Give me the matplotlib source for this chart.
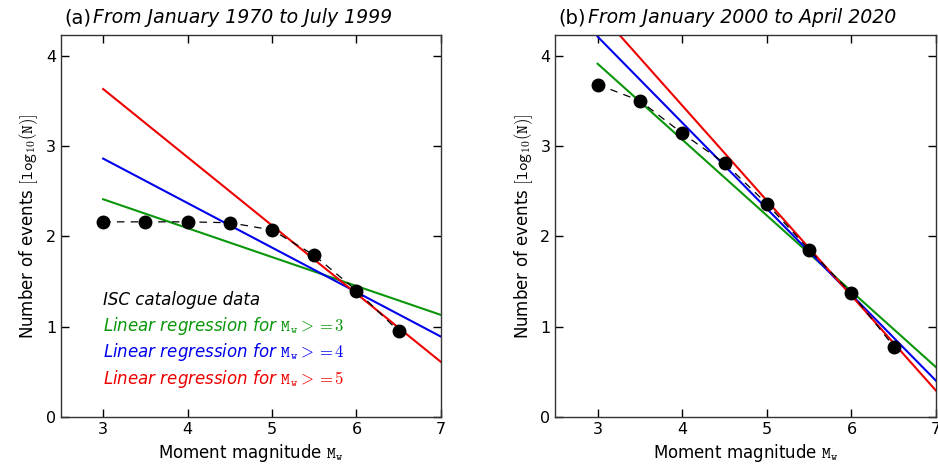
import matplotlib
matplotlib.use("Agg")
import matplotlib.pyplot as plt
import numpy as np

plt.rcParams['mathtext.fontset'] = 'cm'
plt.rcParams['font.family'] = 'DejaVu Sans'

mags = [3, 3.5, 4, 4.5, 5, 5.5, 6, 6.5]
logN_a = [2.16, 2.16, 2.16, 2.15, 2.07, 1.79, 1.40, 0.95]
logN_b = [3.68, 3.50, 3.14, 2.81, 2.36, 1.85, 1.37, 0.78]

fit_x = [3, 7]
# line endpoints (value at x=3, value at x=7)
fit_a = {'3': [2.41, 1.13], '4': [2.86, 0.89], '5': [3.63, 0.61]}
fit_b = {'3': [3.91, 0.55], '4': [4.21, 0.40], '5': [4.50, 0.29]}

colors = {'3': '#0a960a', '4': '#0000ee', '5': '#ee0000'}
titles = ['From January 1970 to July 1999', 'From January 2000 to April 2020']
labels = ['(a)', '(b)']

fig = plt.figure(figsize=(9.38, 4.73), dpi=100)
ax_a = fig.add_axes([0.065, 0.1184, 0.405, 0.808])
ax_b = fig.add_axes([0.592, 0.1184, 0.406, 0.808])

for ax, logN, fit, title, lab in [(ax_a, logN_a, fit_a, titles[0], labels[0]),
                                  (ax_b, logN_b, fit_b, titles[1], labels[1])]:
    for k in ['3', '4', '5']:
        ax.plot(fit_x, fit[k], color=colors[k], lw=1.5, zorder=2)
    ax.plot(mags, logN, ls=(0, (6, 5)), color='black', lw=0.9, zorder=3)
    ax.plot(mags, logN, 'o', color='black', ms=9, zorder=4)
    ax.set_xlim(2.5, 7)
    ax.set_ylim(0, 4.23)
    ax.set_xticks([3, 4, 5, 6, 7])
    ax.set_yticks([0, 1, 2, 3, 4])
    ax.tick_params(direction='in', top=True, right=True, labelsize=11.5, length=6, width=1)
    ax.set_xlabel(r'Moment magnitude $\mathtt{M_w}$', fontsize=12)
    ax.set_ylabel(r'Number of events $[\mathtt{log_{10}(N)}]$', fontsize=12)
    ax.text(0.008, 1.02, lab, transform=ax.transAxes, fontsize=14, ha='left', va='bottom')
    ax.text(0.085, 1.02, title, transform=ax.transAxes, fontsize=13.6, style='italic',
            ha='left', va='bottom')
    for s in ax.spines.values():
        s.set_linewidth(1.0)
        s.set_color('#333333')

ax_a.text(3.0, 1.24, 'ISC catalogue data', fontsize=12, style='italic', color='black')
ax_a.text(3.0, 0.95, r'Linear regression for $\mathtt{M_w} >= 3$', fontsize=12, style='italic', color=colors['3'])
ax_a.text(3.0, 0.66, r'Linear regression for $\mathtt{M_w} >= 4$', fontsize=12, style='italic', color=colors['4'])
ax_a.text(3.0, 0.37, r'Linear regression for $\mathtt{M_w} >= 5$', fontsize=12, style='italic', color=colors['5'])

fig.savefig('out.png', dpi=100)
